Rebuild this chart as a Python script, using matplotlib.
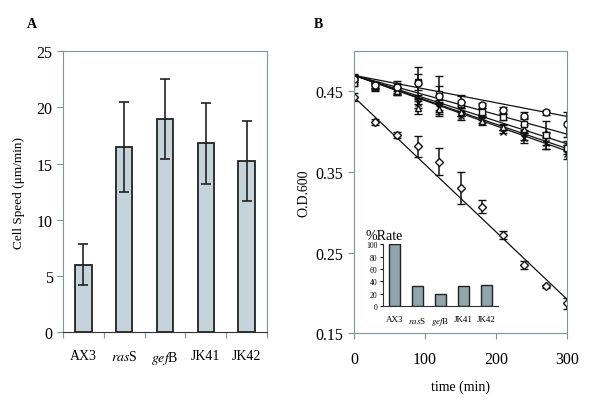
import matplotlib
matplotlib.use("Agg")
import matplotlib.pyplot as plt
import numpy as np

plt.rcParams['font.family'] = ['Liberation Serif', 'DejaVu Serif']
plt.rcParams['mathtext.fontset'] = 'stix'

# ---------------- data ----------------
strains = ["AX3", "rasS", "gefB", "JK41", "JK42"]
strain_labels = ["AX3", r"$\mathit{ras}$S", r"$\mathit{gef}$B", "JK41", "JK42"]
speed = [6.0, 16.5, 19.0, 16.8, 15.2]
speed_err_lo = [1.8, 4.0, 3.6, 3.6, 3.5]
speed_err_hi = [1.8, 4.0, 3.5, 3.6, 3.6]

time = [0, 30, 60, 90, 120, 150, 180, 210, 240, 270, 300]
od_ax3 = [0.443, 0.412, 0.396, 0.382, 0.363, 0.330, 0.307, 0.272, 0.235, 0.208, 0.187]
err_ax3 = [0.005, 0.004, 0.004, 0.013, 0.017, 0.020, 0.008, 0.005, 0.005, 0.002, 0.007]
od_circle = [0.466, 0.458, 0.455, 0.460, 0.444, 0.437, 0.433, 0.427, 0.420, 0.424, 0.409]
err_circle = [0.004, 0.004, 0.005, 0.020, 0.025, 0.008, 0.003, 0.004, 0.004, 0.003, 0.016]
od_square = [0.461, 0.457, 0.455, 0.462, 0.447, 0.434, 0.424, 0.418, 0.409, 0.396, 0.380]
err_square = [0.004, 0.004, 0.008, 0.010, 0.010, 0.010, 0.005, 0.004, 0.008, 0.004, 0.004]
od_triangle = [0.466, 0.456, 0.450, 0.430, 0.428, 0.425, 0.413, 0.406, 0.403, 0.398, 0.383]
err_triangle = [0.004, 0.004, 0.004, 0.008, 0.006, 0.005, 0.005, 0.004, 0.005, 0.015, 0.006]
od_star = [0.463, 0.455, 0.449, 0.436, 0.430, 0.420, 0.415, 0.400, 0.392, 0.386, 0.372]
err_star = [0.004, 0.004, 0.004, 0.006, 0.006, 0.006, 0.004, 0.002, 0.006, 0.008, 0.006]
od_plus = [0.468, 0.458, 0.452, 0.440, 0.433, 0.426, 0.418, 0.405, 0.396, 0.389, 0.378]
err_plus = [0.004, 0.004, 0.004, 0.006, 0.006, 0.006, 0.004, 0.003, 0.006, 0.010, 0.006]

# trend lines: value at t=0 and at t=300
fit_t = [0, 300]
fit_ax3 = [0.443, 0.192]
fit_circle = [0.470, 0.419]
fit_square = [0.470, 0.397]
fit_triangle = [0.470, 0.385]
fit_plus = [0.470, 0.379]
fit_star = [0.470, 0.376]

rate = [100, 32, 20, 32, 34]

# ---------------- figure ----------------
fig = plt.figure(figsize=(6.0, 4.14), dpi=100)
spine_col = '#7d979e'
tick_fs = 11.5

# Panel A
axA = fig.add_axes([0.105, 0.1957, 0.34, 0.678])
x = np.arange(len(strains))
axA.bar(x, speed, width=0.4, color='#c5d3da', edgecolor='#222222', linewidth=1.3,
        yerr=[speed_err_lo, speed_err_hi], error_kw=dict(ecolor='#222222', elinewidth=1.2,
                                                          capsize=3.5, capthick=1.2))
axA.set_xlim(-0.5, 4.5)
axA.set_ylim(0, 25)
axA.set_yticks([0, 5, 10, 15, 20, 25])
axA.set_xticks(np.arange(-0.5, 5.0, 1.0))
axA.set_xticklabels([])
axA.set_xticks(x, minor=True)
axA.set_xticklabels(strain_labels, minor=True, fontsize=10, fontfamily='Liberation Serif')
axA.tick_params(axis='x', which='minor', length=0, pad=12)
axA.tick_params(axis='x', which='major', direction='out', length=4, color=spine_col)
axA.tick_params(axis='y', direction='out', length=4, color=spine_col, labelsize=tick_fs)
for lab in axA.get_yticklabels():
    lab.set_fontfamily('Liberation Serif')
for s in axA.spines.values():
    s.set_color(spine_col)
axA.spines['bottom'].set_color('#333333')
axA.set_ylabel("Cell Speed (μm/min)", fontsize=9.5, labelpad=8)
fig.text(0.045, 0.94, "A", fontsize=10, fontweight='bold', ha='left', va='center')

# Panel B
axB = fig.add_axes([0.59, 0.193, 0.355, 0.681])
mk = dict(mfc='white', mec='#111111', markersize=5, mew=1.0, ecolor='#111111',
          elinewidth=1.1, capsize=3, capthick=1.1, linestyle='none')
for fit in [fit_ax3, fit_circle, fit_square, fit_triangle, fit_plus, fit_star]:
    axB.plot(fit_t, fit, color='#111111', lw=0.9, zorder=2)
axB.errorbar(time, od_star, yerr=err_star, marker='x', **mk)
axB.errorbar(time, od_plus, yerr=err_plus, marker='+', **mk)
axB.errorbar(time, od_triangle, yerr=err_triangle, marker='^', **mk)
axB.errorbar(time, od_square, yerr=err_square, marker='s', **mk)
axB.errorbar(time, od_circle, yerr=err_circle, marker='o', **mk)
axB.errorbar(time, od_ax3, yerr=err_ax3, marker='D', **dict(mk, markersize=4.5))
axB.set_xlim(0, 300)
axB.set_ylim(0.15, 0.50)
axB.set_yticks([0.15, 0.25, 0.35, 0.45])
axB.set_yticklabels(["0.15", "0.25", "0.35", "0.45"], fontfamily='Liberation Serif')
axB.set_xticks([0, 100, 200, 300])
axB.set_xticklabels(["0", "100", "200", "300"], fontfamily='Liberation Serif')
axB.tick_params(axis='both', direction='out', length=4, color=spine_col, labelsize=tick_fs)
axB.tick_params(axis='x', pad=9)
for s in axB.spines.values():
    s.set_color(spine_col)
axB.set_xlabel("time (min)", fontsize=10, labelpad=9)
axB.set_ylabel("O.D.600", fontsize=10, labelpad=4)
fig.text(0.523, 0.94, "B", fontsize=10, fontweight='bold', ha='left', va='center')

# Inset
axI = fig.add_axes([0.638, 0.258, 0.192, 0.150])
axI.bar(np.arange(len(strains)), rate, width=0.5, color='#91a6ac', edgecolor='#222222', linewidth=1.0)
axI.set_xlim(-0.5, 4.5)
axI.set_ylim(0, 100)
axI.set_yticks([0, 20, 40, 60, 80, 100])
axI.set_xticks(np.arange(len(strains)))
axI.set_xticklabels(strain_labels, fontsize=6.5)
axI.tick_params(axis='x', length=0, pad=6)
axI.tick_params(axis='y', direction='out', length=2.5, labelsize=5.5, pad=1.5)
axI.spines['top'].set_visible(False)
axI.spines['right'].set_visible(False)
axI.spines['left'].set_color('#333333')
axI.spines['bottom'].set_color('#333333')
axI.patch.set_alpha(0)
axI.set_title("%Rate", fontsize=10, loc='left', x=-0.15, pad=4)

fig.savefig("out.png", dpi=100)
